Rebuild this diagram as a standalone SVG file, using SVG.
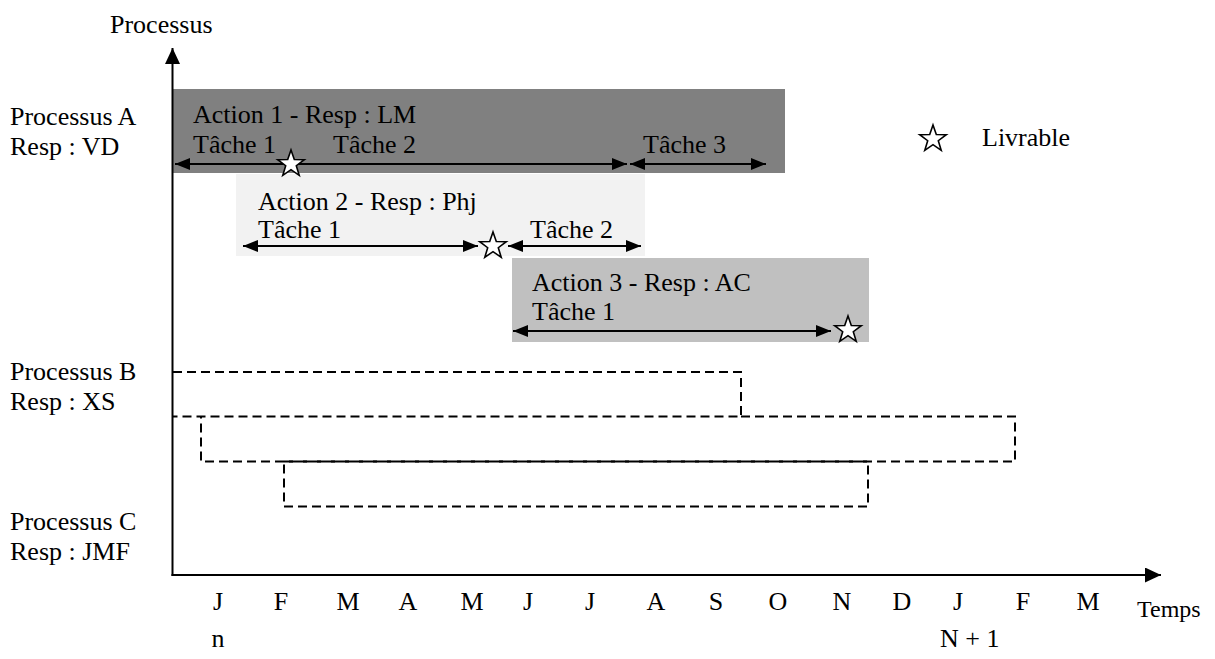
<svg xmlns="http://www.w3.org/2000/svg" width="1215" height="659" viewBox="0 0 1215 659" font-family="'Liberation Serif', 'DejaVu Serif', serif">
  <style>
    text { font-family: 'Liberation Serif', 'Times New Roman', 'DejaVu Serif', serif; font-size: 26px; fill: #000; }
    text.small { font-size: 24px; }
    .axis { stroke: #000; stroke-width: 2; fill: none; }
    .span { stroke: #000; stroke-width: 2.2; fill: none; marker-start: url(#tip); marker-end: url(#tip); }
    .dash { stroke: #000; stroke-width: 2; fill: none; stroke-dasharray: 9 5; }
    .star { fill: #fff; stroke: #000; stroke-width: 1.6; stroke-linejoin: miter; }
  </style>
  <defs>
    <marker id="tip" viewBox="0 0 15 12" refX="15" refY="6" markerWidth="15" markerHeight="12" markerUnits="userSpaceOnUse" orient="auto-start-reverse">
      <path d="M0,0 L15,6 L0,12 Z" fill="#000"/>
    </marker>
    <marker id="axisTip" viewBox="0 0 16 15" refX="16" refY="7.5" markerWidth="16" markerHeight="15" markerUnits="userSpaceOnUse" orient="auto">
      <path d="M0,0 L16,7.5 L0,15 Z" fill="#000"/>
    </marker>
    <!-- five-point star outline, centred on the origin -->
    <path id="starShape" class="star" d="M0,-14 L3.3,-4.5 L13.3,-4.3 L5.3,1.7 L8.2,11.3 L0,5.6 L-8.2,11.3 L-5.3,1.7 L-13.3,-4.3 L-3.3,-4.5 Z"/>
  </defs>

  <!-- action bars -->
  <g id="action1">
    <rect x="172" y="89" width="613" height="84" fill="#808080"/>
    <text x="193" y="123">Action 1 - Resp : LM</text>
    <text x="193" y="153">Tâche 1</text>
    <text x="333" y="153">Tâche 2</text>
    <text x="643" y="153">Tâche 3</text>
  </g>
  <g id="action2">
    <rect x="236" y="174" width="409" height="82" fill="#f2f2f2"/>
    <text x="258" y="210">Action 2 - Resp : Phj</text>
    <text x="258" y="238">Tâche 1</text>
    <text x="530" y="238">Tâche 2</text>
  </g>
  <g id="action3">
    <rect x="512" y="258" width="357" height="84" fill="#c0c0c0"/>
    <text x="532" y="291">Action 3 - Resp : AC</text>
    <text x="532" y="320">Tâche 1</text>
  </g>

  <!-- axes and time spans -->
  <g id="connectors">
    <line class="axis" x1="172.5" y1="576" x2="172.5" y2="48" marker-end="url(#axisTip)"/>
    <line class="axis" x1="171.5" y1="575" x2="1161" y2="575" marker-end="url(#axisTip)"/>
    <line class="span" x1="175" y1="164" x2="627" y2="164"/>
    <line class="span" x1="630" y1="164" x2="766" y2="164"/>
    <line class="span" x1="243" y1="246" x2="478" y2="246"/>
    <line class="span" x1="508" y1="246" x2="641" y2="246"/>
    <line class="span" x1="513" y1="331" x2="831" y2="331"/>
  </g>

  <!-- deliverables -->
  <g id="livrables">
    <use href="#starShape" x="291" y="164"/>
    <use href="#starShape" x="493" y="246"/>
    <use href="#starShape" x="848" y="330"/>
  </g>

  <g id="legend">
    <use href="#starShape" x="933" y="139"/>
    <text x="982" y="146">Livrable</text>
  </g>

  <!-- process outlines -->
  <g id="processusB">
    <path class="dash" d="M173,372 H741 V416.5 H173"/>
  </g>
  <g id="processusB2">
    <path class="dash" d="M741,416.5 H1015 V461.5 H201 V417"/>
  </g>
  <g id="processusC">
    <path class="dash" d="M284,461.5 H868 V506.5 H284 Z"/>
  </g>

  <!-- axis labels -->
  <g id="labels">
    <text x="110" y="33">Processus</text>
    <text x="10" y="125">Processus A</text>
    <text x="10" y="155">Resp : VD</text>
    <text x="10" y="380">Processus B</text>
    <text x="10" y="410">Resp : XS</text>
    <text x="10" y="530">Processus C</text>
    <text x="10" y="560">Resp : JMF</text>
    <text class="small" x="1137" y="617">Temps</text>
    <text x="218" y="647" text-anchor="middle">n</text>
    <text x="940" y="647">N + 1</text>
  </g>

  <g id="months" text-anchor="middle">
    <text x="218" y="610">J</text>
    <text x="281" y="610">F</text>
    <text x="348" y="610">M</text>
    <text x="408" y="610">A</text>
    <text x="472" y="610">M</text>
    <text x="528" y="610">J</text>
    <text x="590" y="610">J</text>
    <text x="656" y="610">A</text>
    <text x="716" y="610">S</text>
    <text x="778" y="610">O</text>
    <text x="842" y="610">N</text>
    <text x="902" y="610">D</text>
    <text x="958" y="610">J</text>
    <text x="1023" y="610">F</text>
    <text x="1088" y="610">M</text>
  </g>
</svg>
